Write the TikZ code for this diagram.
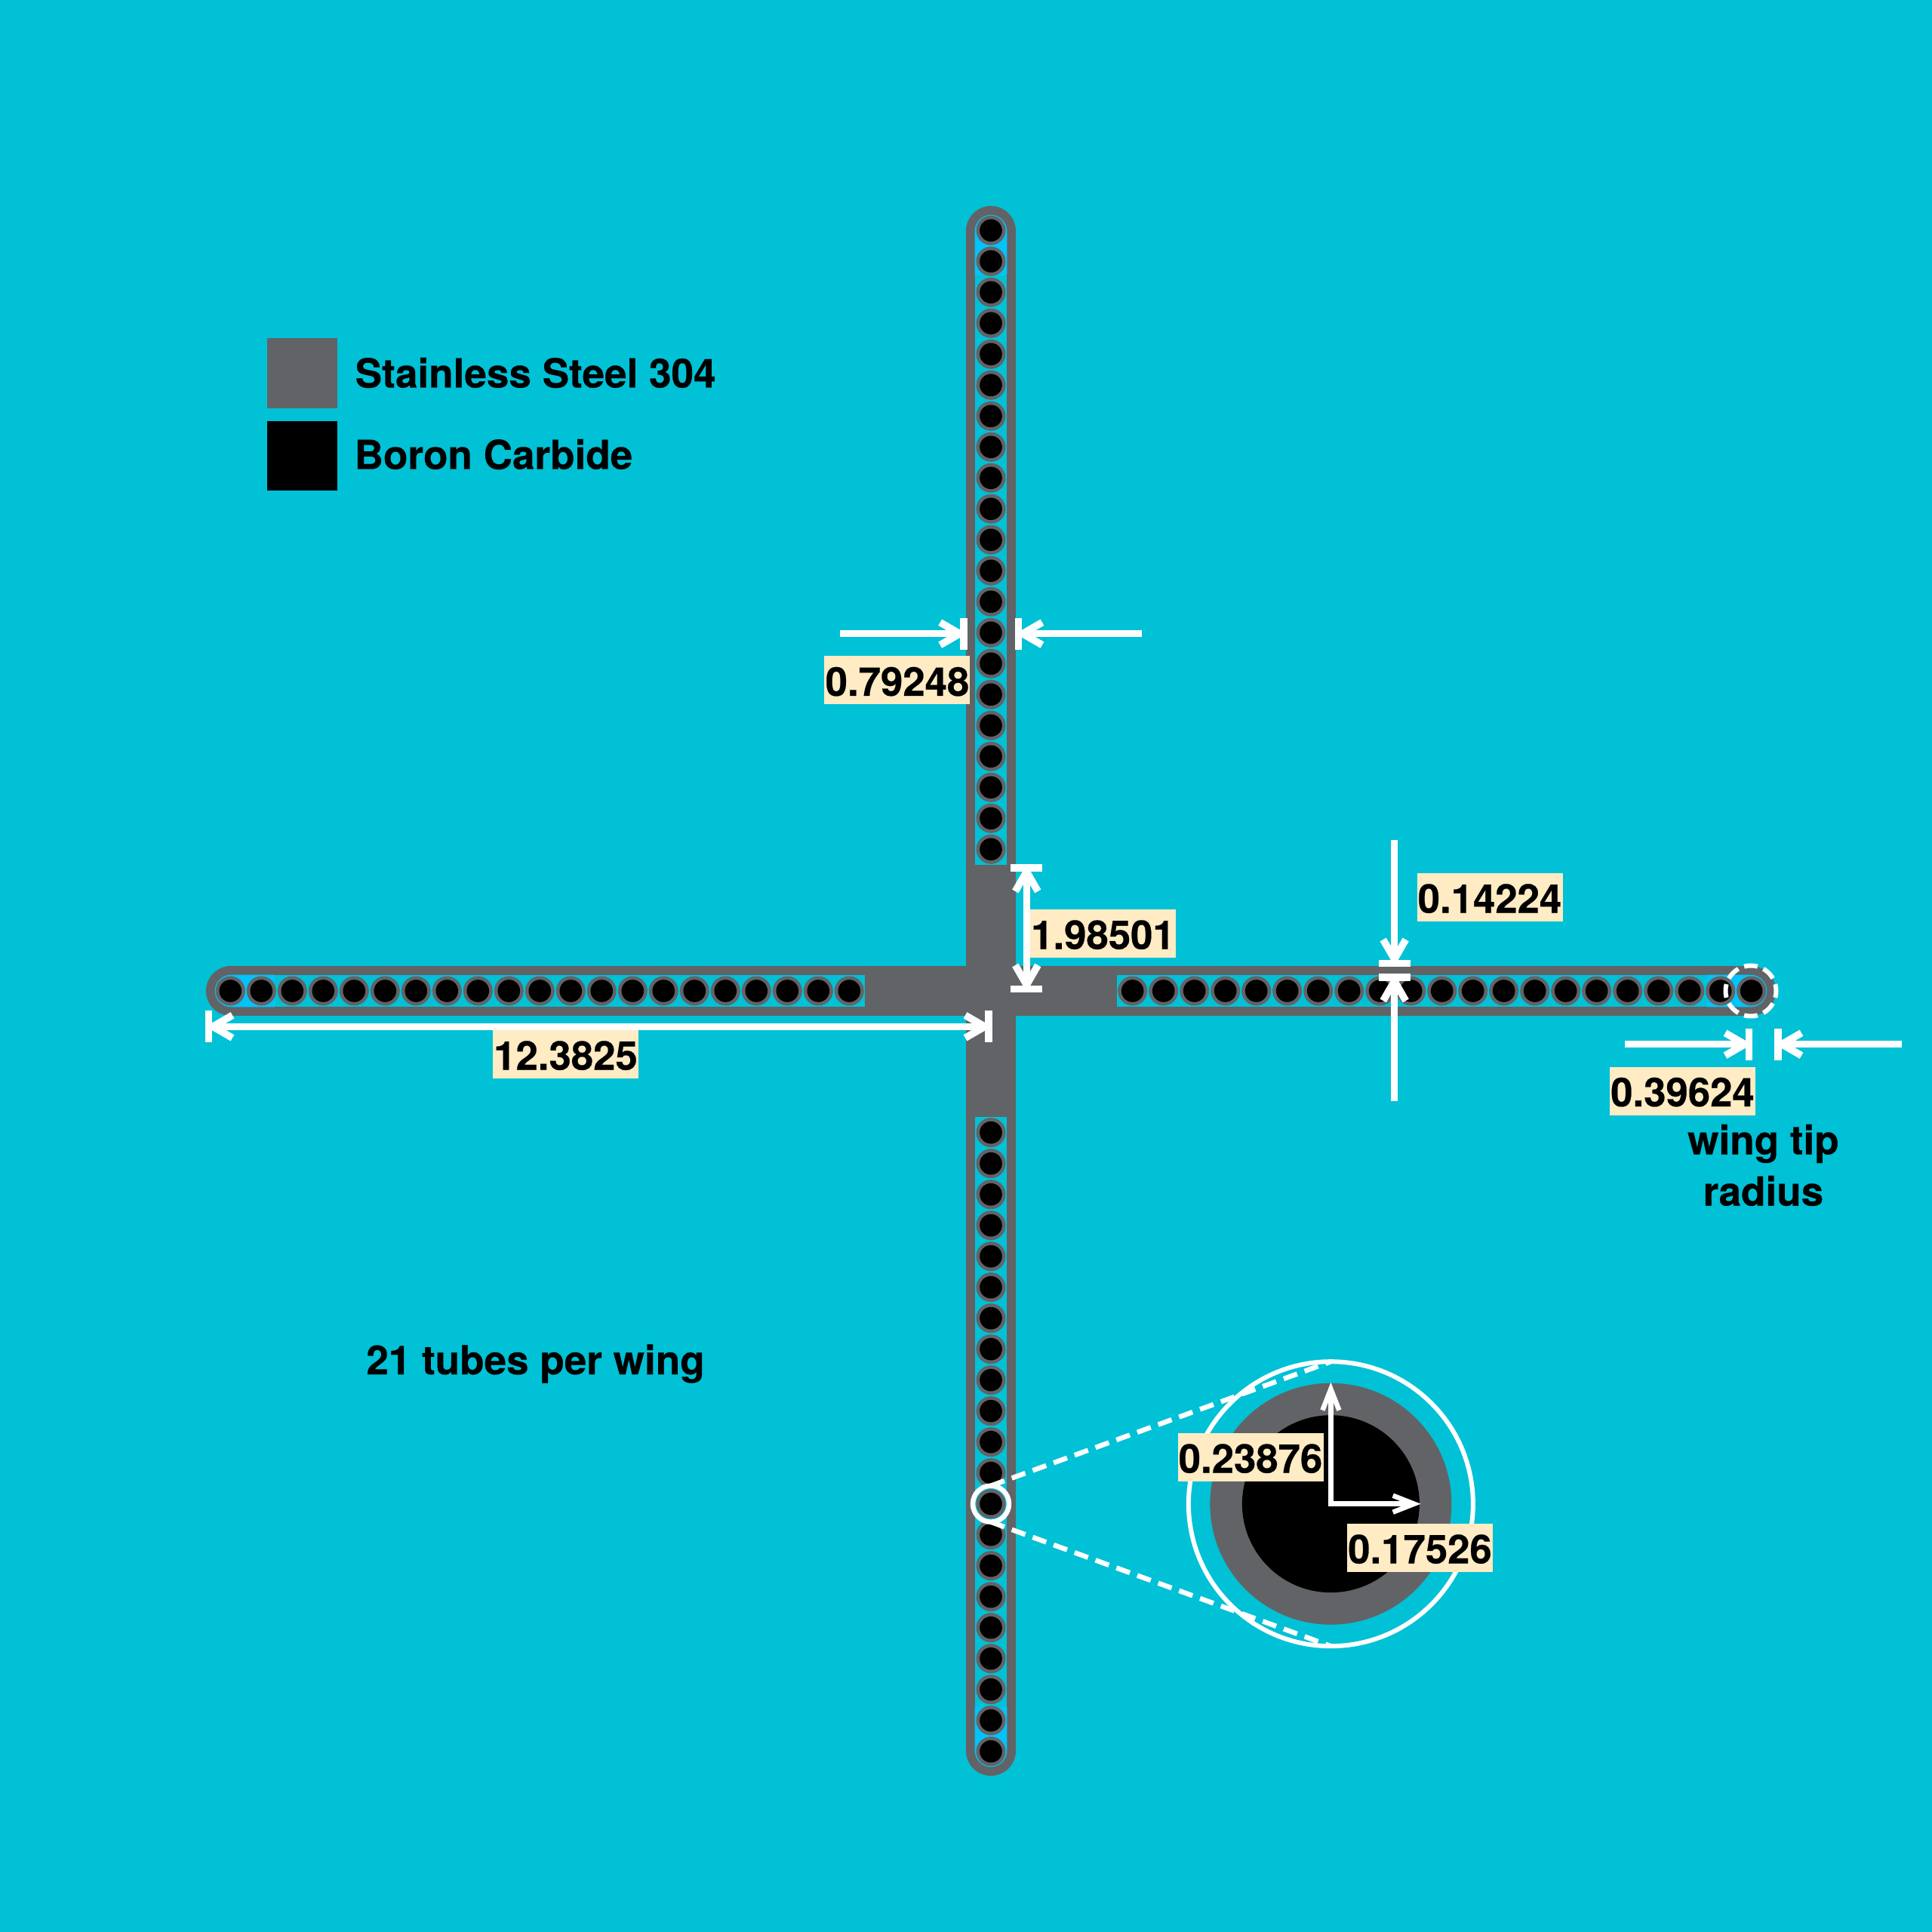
\documentclass[tikz,border=0pt]{standalone}
\usepackage{fontspec}
\setmainfont{TeX Gyre Heros}[BoldFeatures={FakeBold=0.4}]
\usetikzlibrary{arrows,arrows.meta}
\usetikzlibrary{calc}
\definecolor{coolant}{RGB}{0, 193, 214}
\definecolor{coolanttip}{RGB}{0, 196, 250}
\definecolor{steel}{RGB}{98, 99, 102}
\definecolor{boron}{RGB}{0, 0, 0}
\definecolor{dimback}{RGB}{255, 235, 196}

\tikzset{
    dimline/.style={white, line width=0.095cm},
    dimtip/.tip={Straight Barb[length=0.26cm, width=0.30cm, line width=0.095cm, sep=-0.09cm] Bar[width=0.42cm, line width=0.095cm, sep=0pt]},
    radiustip/.tip={Straight Barb[length=0.28cm, width=0.22cm, line width=0.065cm]},
    dimlabel/.style={fill=dimback, text=black, font=\fontsize{15}{18}\selectfont\bfseries, inner sep=0pt, minimum width=1.93cm, minimum height=0.64cm, text height=0.41cm, text depth=0pt},
    plainlabel/.style={text=black, font=\fontsize{15.1}{18}\selectfont\bfseries, inner sep=0pt},
    lens/.style={circle, draw=white, inner sep=0pt, outer sep=0pt},
    swatch/.style={inner sep=0pt, outer sep=0pt, minimum size=0.925cm},
}

\begin{document}
\begin{tikzpicture}

    \fill[coolant] (-13.13,-12.47) rectangle (12.47,13.13);
    \useasboundingbox (-13.13,-12.47) rectangle (12.47,13.13);

    % cross
    \draw[steel, line width=0.66cm, line cap=round] (-10.07,0) -- (10.07,0);
    \draw[steel, line width=0.66cm, line cap=round] (0,-10.07) -- (0,10.07);

    \foreach \ang in {0,90,180,270} {
        \begin{scope}[rotate=\ang]
            \fill[coolant] (1.67,-0.213) rectangle (9.49,0.213);
            \fill[coolanttip] (9.49,-0.213) -- (10.07,-0.213) arc (-90:90:0.213) -- (9.49,0.213) -- cycle;
            \foreach \i in {0,...,20} {
                \fill[steel] ({1.877+0.41*\i},0) circle (0.195);
                \fill[boron] ({1.877+0.41*\i},0) circle (0.148);
            }
        \end{scope}
    }

    % enlarged tube
    \fill[steel] (4.504,-6.797) circle (1.60);
    \fill[boron] (4.504,-6.797) circle (1.175);
    \node[lens, line width=0.06cm, minimum size=3.77cm] (lensbig) at (4.504,-6.797) {};
    \node[lens, line width=0.065cm, minimum size=0.48cm] (lenssmall) at (0,-6.797) {};
    \draw[white, line width=0.065cm, dash pattern=on 0.19cm off 0.105cm] (lenssmall.north) -- (lensbig.north);
    \draw[white, line width=0.065cm, dash pattern=on 0.19cm off 0.105cm] (lenssmall.south) -- (lensbig.south);

    \draw[white, line width=0.06cm, dash pattern=on 0.18cm off 0.083cm, dash phase=0.09cm] (10.07,0) circle (0.335);

    \coordinate (rcenter) at (4.504,-6.797);
    \coordinate (rtop) at (4.504,-5.187);
    \coordinate (rright) at (5.696,-6.797);
    \draw[white, line width=0.065cm, radiustip-radiustip] (rtop) -- (rcenter) -- (rright);

    % dimension lines
    \coordinate (hubtop) at (0.473,1.68);
    \coordinate (hubbot) at (0.473,-0.02);
    \coordinate (spanleft) at (-10.41,-0.473);
    \coordinate (spanright) at (0.02,-0.473);
    \draw[dimline, dimtip-dimtip] (hubtop) -- (hubbot);
    \draw[dimline, dimtip-dimtip] (spanleft) -- (spanright);

    \coordinate (widthA) at (-2.00,4.733);
    \coordinate (widthB) at (-0.313,4.733);
    \coordinate (widthC) at (2.00,4.733);
    \coordinate (widthD) at (0.32,4.733);
    \draw[dimline, -dimtip] (widthA) -- (widthB);
    \draw[dimline, -dimtip] (widthC) -- (widthD);

    \coordinate (wallA) at (5.347,2.00);
    \coordinate (wallB) at (5.347,0.32);
    \coordinate (wallC) at (5.347,-1.46);
    \coordinate (wallD) at (5.347,0.23);
    \draw[dimline, -dimtip] (wallA) -- (wallB);
    \draw[dimline, -dimtip] (wallC) -- (wallD);

    \coordinate (tipA) at (8.40,-0.707);
    \coordinate (tipB) at (10.09,-0.707);
    \coordinate (tipC) at (12.07,-0.707);
    \coordinate (tipD) at (10.38,-0.707);
    \draw[dimline, -dimtip] (tipA) -- (tipB);
    \draw[dimline, -dimtip] (tipC) -- (tipD);

    % labels
    \node[dimlabel] (lblwidth) at (-1.24,4.115) {0.79248};
    \node[dimlabel] (lblspan) at (-5.635,-0.84) {12.3825};
    \node[dimlabel] (lblhub) at (1.485,0.76) {1.98501};
    \node[dimlabel] (lblwall) at (6.61,1.24) {0.14224};
    \node[dimlabel] (lbltip) at (9.165,-1.325) {0.39624};
    \node[dimlabel] (lblouter) at (3.44,-6.18) {0.23876};
    \node[dimlabel] (lblinner) at (5.685,-7.38) {0.17526};

    \node[plainlabel, anchor=base] (wingtip) at (10.235,-2.165) {wing tip};
    \node[plainlabel, anchor=base] (wingradius) at (10.235,-2.845) {radius};
    \node[plainlabel, anchor=base] (tubecount) at (-6.035,-5.08) {21 tubes per wing};

    % legend
    \node[swatch, fill=steel] (swsteel) at (-9.125,8.187) {};
    \node[swatch, fill=boron] (swboron) at (-9.125,7.092) {};
    \node[plainlabel, anchor=base west] (lgsteel) at (-8.43,7.995) {Stainless Steel 304};
    \node[plainlabel, anchor=base west] (lgboron) at (-8.44,6.915) {Boron Carbide};

\end{tikzpicture}
\end{document}
